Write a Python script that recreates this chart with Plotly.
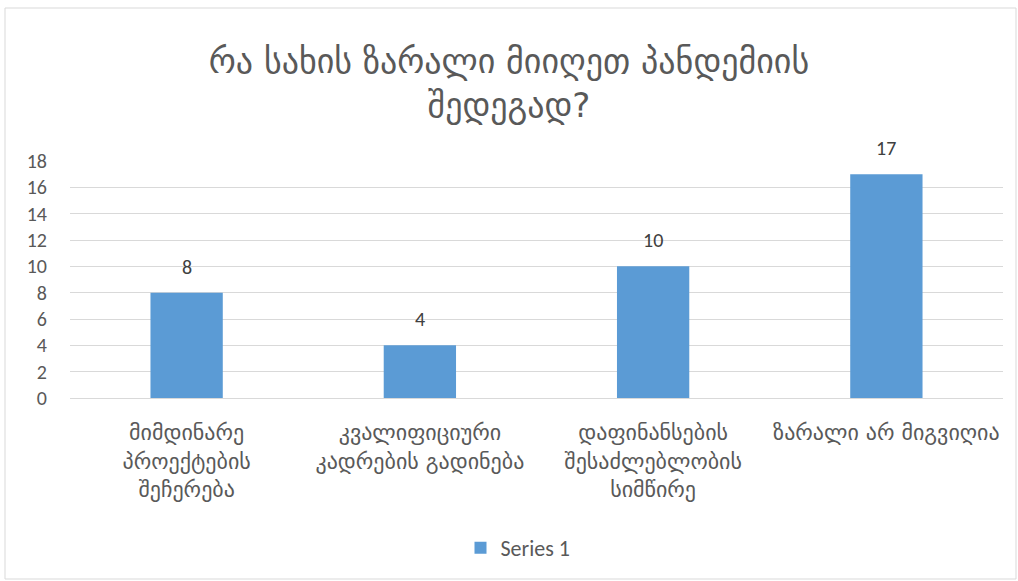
import plotly.graph_objects as go

categories = [
    "მიმდინარე<br>პროექტების<br>შეჩერება",
    "კვალიფიციური<br>კადრების გადინება",
    "დაფინანსების<br>შესაძლებლობის<br>სიმწირე",
    "ზარალი არ მიგვიღია",
]
values = [8, 4, 10, 17]
series_name = "Series 1"
title_text = "რა სახის ზარალი მიიღეთ პანდემიის<br>შედეგად?"
y_ticks = [0, 2, 4, 6, 8, 10, 12, 14, 16, 18]

W, H = 1018, 581
ml, mr, mt, mb = 70, 15, 161, 183
pw, ph = W - ml - mr, H - mt - mb

geo_font = "DejaVu Sans, Noto Sans, sans-serif"
lat_font = "Carlito, Lato, Liberation Sans, sans-serif"

fig = go.Figure()
fig.add_trace(go.Bar(
    x=categories, y=values, name=series_name,
    marker=dict(color="#5b9bd5", line=dict(width=0)),
    hoverinfo="x+y",
))

for c, v in zip(categories, values):
    fig.add_annotation(x=c, y=v, text=str(v), showarrow=False, yanchor="bottom", yshift=12,
                       font=dict(size=20, color="#404040", family=lat_font))

def px_to_paper_x(px):
    return (px - ml) / pw

def px_to_paper_y(py):
    return (H - mb - py) / ph

fig.add_shape(type="rect", xref="paper", yref="paper",
              x0=px_to_paper_x(5), x1=px_to_paper_x(1016),
              y0=px_to_paper_y(579), y1=px_to_paper_y(8),
              line=dict(color="#d9d9d9", width=1), fillcolor="rgba(0,0,0,0)", layer="below")

fig.update_layout(
    width=W, height=H,
    margin=dict(l=ml, r=mr, t=mt, b=mb),
    paper_bgcolor="white", plot_bgcolor="white",
    title=dict(text=title_text, x=0.5, xanchor="center", y=1 - 73 / H, yanchor="middle",
               font=dict(size=34, color="#595959", family=geo_font)),
    bargap=0.69,
    showlegend=True,
    legend=dict(orientation="h", x=px_to_paper_x(518), xanchor="center", y=px_to_paper_y(548), yanchor="middle",
                font=dict(size=22, color="#595959", family=lat_font)),
    xaxis=dict(showgrid=False, showline=False, ticks="", ticklabelstandoff=19,
               tickfont=dict(size=22, color="#595959", family=geo_font)),
    yaxis=dict(range=[0, 18], tickvals=y_ticks, showgrid=True, gridcolor="#d9d9d9", gridwidth=1,
               zeroline=True, zerolinecolor="#d9d9d9", zerolinewidth=1, showline=False, ticks="",
               tickfont=dict(size=20, color="#595959", family=lat_font),
               ticklabelstandoff=22),
)

fig.write_html("out.html", config={"displayModeBar": False},
               post_script="document.body.style.margin='0';")
